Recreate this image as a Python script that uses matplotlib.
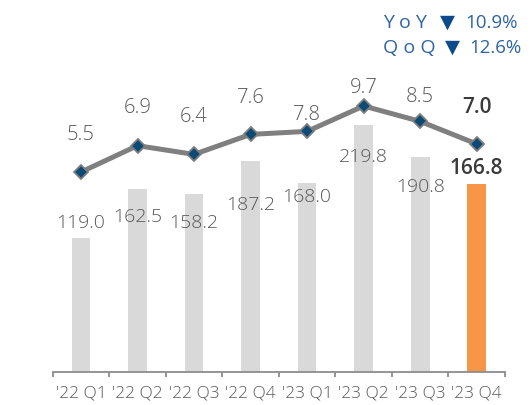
import matplotlib
matplotlib.use("Agg")
import matplotlib.pyplot as plt
from matplotlib.transforms import offset_copy
import numpy as np

# ---- data ----
categories = ["'22 Q1", "'22 Q2", "'22 Q3", "'22 Q4", "'23 Q1", "'23 Q2", "'23 Q3", "'23 Q4"]
bar_values = [119.0, 162.5, 158.2, 187.2, 168.0, 219.8, 190.8, 166.8]
line_values = [5.5, 6.9, 6.4, 7.6, 7.8, 9.7, 8.5, 7.0]
yoy_text = "10.9%"
qoq_text = "12.6%"

# ---- style ----
FONT = ["Open Sans", "DejaVu Sans"]
plt.rcParams['font.family'] = FONT
GRAY_BAR = "#D9D9D9"
ORANGE = "#F79646"
LINE_GRAY = "#7F7F7F"
MARKER_FILL = "#0D4A76"
TXT = "#595959"
TXT_DARK = "#3A3A3A"
BLUE = "#2F64A6"
NAVY = "#0B4A8B"

# label offsets in pixels (positive = upward) relative to bar top / marker
bar_label_dy = [16, -27, -28, -43, -13, -31, -29, 17]
line_label_dy = [38, 39, 38, 37, 17, 19, 25, 37]

W, H = 530, 406
fig = plt.figure(figsize=(W / 100, H / 100), dpi=100)
left, right, bottom, top = 52.7, 505, 373, 20
ax = fig.add_axes([left / W, (H - bottom) / H, (right - left) / W, (bottom - top) / H])
ax2 = ax.twinx()

x = np.arange(len(categories))
colors = [GRAY_BAR] * (len(categories) - 1) + [ORANGE]
ax.bar(x, bar_values, width=0.33, color=colors, zorder=1)
ax.set_xlim(-0.5, len(categories) - 0.5)
ax.set_ylim(0, (bottom - top) / 1.125)

ax2.plot(x, line_values, color=LINE_GRAY, lw=3.6, marker="D", ms=7.6,
         mfc=MARKER_FILL, mec=LINE_GRAY, mew=1.3, zorder=3, solid_capstyle="round")
ax2.set_yscale("log")
ax2.set_ylim(0.987, 20.48)

for a in (ax, ax2):
    for s in ["left", "right", "top"]:
        a.spines[s].set_visible(False)
ax2.spines["bottom"].set_visible(False)
ax2.set_yticks([])
ax2.minorticks_off()
ax2.tick_params(axis="y", which="both", left=False, right=False, labelright=False)
ax.set_yticks([])

ax.spines["bottom"].set_color("#8C8C8C")
ax.spines["bottom"].set_linewidth(1.3)
ax.set_xticks(np.arange(-0.5, len(categories), 1.0))
ax.set_xticklabels([])
ax.set_xticks(x, minor=True)
ax.set_xticklabels(categories, minor=True)
ax.tick_params(axis="x", which="major", length=3.5, width=1.3, color="#8C8C8C", direction="out")
ax.tick_params(axis="x", which="minor", length=0, pad=9, labelsize=12.5, labelcolor=TXT)
for lab in ax.get_xticklabels(minor=True):
    lab.set_fontweight("light")

n = len(categories)
for i, (xi, v) in enumerate(zip(x, bar_values)):
    last = i == n - 1
    tr = offset_copy(ax.transData, fig=fig, x=0, y=bar_label_dy[i], units="dots")
    ax.text(xi, v, f"{v:.1f}", transform=tr, ha="center", va="center",
            fontsize=14 if not last else 15, color=TXT_DARK if last else TXT,
            fontweight="semibold" if last else "light", zorder=5)

for i, (xi, v) in enumerate(zip(x, line_values)):
    last = i == n - 1
    tr = offset_copy(ax2.transData, fig=fig, x=0, y=line_label_dy[i], units="dots")
    ax2.text(xi, v, f"{v:.1f}", transform=tr, ha="center", va="center",
             fontsize=14.5 if not last else 15, color=TXT_DARK if last else TXT,
             fontweight="semibold" if last else "light", zorder=5)

# header (figure pixel coords, y from top)
def ftext(px, py, s, color, ha="left", size=13.5, weight="normal"):
    fig.text(px / W, 1 - py / H, s, color=color, ha=ha, va="center",
             fontsize=size, fontweight=weight, family=FONT)

ftext(383, 23, "Y o Y", BLUE, size=14)
ftext(447, 23, "▼", NAVY, ha="center", size=14)
ftext(518, 23, yoy_text, BLUE, ha="right")
ftext(383, 48, "Q o Q", BLUE, size=14)
ftext(452, 48, "▼", NAVY, ha="center", size=14)
ftext(522, 48, qoq_text, BLUE, ha="right")

fig.savefig("out.png", dpi=100)
